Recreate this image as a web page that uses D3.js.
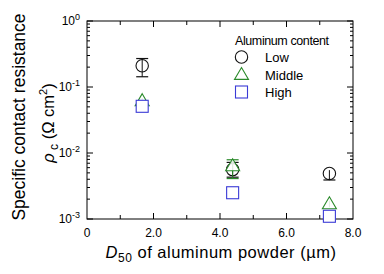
<!DOCTYPE html>
<html>
<head>
<meta charset="utf-8">
<script src="https://cdn.jsdelivr.net/npm/d3@7"></script>
<style>
  body { margin: 0; background: #fff; }
  svg { font-family: "Liberation Sans", Arial, sans-serif; }
</style>
</head>
<body>
<div id="chart"></div>
<script>
const xTicks = [2, 4, 6, 8];
const xTickLabels = ["2.0", "4.0", "6.0", "8.0"];
const yDecades = [0, -1, -2, -3];
const seriesNames = ["Low", "Middle", "High"];
const seriesColors = ["#111111", "#2a8a2a", "#3a3ad6"];
const seriesShapes = ["circle", "triangle", "square"];

const d50 = [1.66, 4.38, 7.29];
const lowVals = [0.21, 0.0056, 0.0049];
const lowLo = [0.143, 0.0043, 0.0039];
const lowHi = [0.27, 0.0072, 0.0055];
const midVals = [0.062, 0.0064, 0.0017];
const midLo = [0.055, 0.0041, 0.0015];
const midHi = [0.068, 0.0079, 0.0019];
const highVals = [0.051, 0.0025, 0.0011];
const highLo = [0.048, 0.0024, 0.00105];
const highHi = [0.054, 0.0026, 0.00115];

const W = 384, H = 274;
const margin = { top: 21, right: 31, bottom: 55, left: 87 };
const width = W - margin.left - margin.right;
const height = H - margin.top - margin.bottom;

const svgRoot = d3.select("#chart").append("svg").attr("width", W).attr("height", H);
const svg = svgRoot.append("g").attr("transform", `translate(${margin.left},${margin.top})`);

const x = d3.scaleLinear().domain([0, 8]).range([0, width]);
const y = d3.scaleLog().domain([1e-3, 1]).range([height, 0]);

// frame
svg.append("rect").attr("width", width).attr("height", height)
  .attr("fill", "none").attr("stroke", "#000").attr("stroke-width", 1);

// x ticks (inward, bottom and top)
const xMinor = d3.range(1, 8, 1);
xMinor.forEach((v) => {
  const len = v % 2 === 0 ? 6 : 4;
  svg.append("line").attr("x1", x(v)).attr("x2", x(v)).attr("y1", height).attr("y2", height - len).attr("stroke", "#000");
  svg.append("line").attr("x1", x(v)).attr("x2", x(v)).attr("y1", 0).attr("y2", len).attr("stroke", "#000");
});

svg.append("text").attr("x", x(0)).attr("y", height + 18).attr("text-anchor", "middle")
  .style("font-size", "12px").text("0");
xTicks.forEach((v, i) => {
  svg.append("text").attr("x", x(v)).attr("y", height + 18).attr("text-anchor", "middle")
    .style("font-size", "12px").text(xTickLabels[i]);
});

// y ticks (log, inward on both sides)
const yMinorVals = [];
for (let e = -3; e < 0; e++) {
  for (let m = 2; m <= 9; m++) yMinorVals.push(m * Math.pow(10, e));
}
yMinorVals.forEach((v) => {
  svg.append("line").attr("x1", 0).attr("x2", 3).attr("y1", y(v)).attr("y2", y(v)).attr("stroke", "#000");
  svg.append("line").attr("x1", width).attr("x2", width - 3).attr("y1", y(v)).attr("y2", y(v)).attr("stroke", "#000");
});
yDecades.forEach((e) => {
  const v = Math.pow(10, e);
  svg.append("line").attr("x1", 0).attr("x2", 6).attr("y1", y(v)).attr("y2", y(v)).attr("stroke", "#000");
  svg.append("line").attr("x1", width).attr("x2", width - 6).attr("y1", y(v)).attr("y2", y(v)).attr("stroke", "#000");
  const t = svg.append("text").attr("x", -7).attr("y", y(v) + 4).attr("text-anchor", "end")
    .style("font-size", "12px");
  t.append("tspan").text("10");
  t.append("tspan").attr("dy", -5).style("font-size", "9px").text(String(e));
});

// axis titles
svgRoot.append("text")
  .attr("transform", "translate(25,117) rotate(-90)")
  .attr("text-anchor", "middle").style("font-size", "17.5px")
  .text("Specific contact resistance");

const yl2 = svgRoot.append("text")
  .attr("transform", "translate(54,123) rotate(-90)")
  .attr("text-anchor", "middle").style("font-size", "16.5px");
yl2.append("tspan").style("font-style", "italic").text("ρ");
yl2.append("tspan").attr("dy", 4).style("font-size", "12px").text(" c");
yl2.append("tspan").attr("dy", -4).text(" (Ω cm");
yl2.append("tspan").attr("dy", -7).style("font-size", "11px").text("2");
yl2.append("tspan").attr("dy", 7).text(")");

const xl = svgRoot.append("text")
  .attr("x", 221).attr("y", 258)
  .attr("text-anchor", "middle").style("font-size", "16.5px")
  .style("letter-spacing", "0.5px");
xl.append("tspan").style("font-style", "italic").text("D");
xl.append("tspan").attr("dy", 4).style("font-size", "12px").text("50");
xl.append("tspan").attr("dy", -4).text(" of aluminum powder (µm)");

// markers
function drawMarker(g, shape, cx, cy, color) {
  if (shape === "circle") {
    g.append("circle").attr("cx", cx).attr("cy", cy).attr("r", 6.2)
      .attr("fill", "none").attr("stroke", color).attr("stroke-width", 1.1);
  } else if (shape === "triangle") {
    const s = 7;
    g.append("path")
      .attr("d", `M${cx},${cy - s}L${cx + s},${cy + s * 0.7}L${cx - s},${cy + s * 0.7}Z`)
      .attr("fill", "#fff").attr("fill-opacity", 0.85).attr("stroke", color).attr("stroke-width", 1.1);
  } else {
    g.append("rect").attr("x", cx - 6).attr("y", cy - 6).attr("width", 12).attr("height", 12)
      .attr("fill", "#fff").attr("stroke", color).attr("stroke-width", 1.1);
  }
}

const allVals = [lowVals, midVals, highVals];
const allLo = [lowLo, midLo, highLo];
const allHi = [lowHi, midHi, highHi];

seriesNames.forEach((name, s) => {
  const g = svg.append("g").attr("class", "series-" + name);
  d50.forEach((dx, i) => {
    const cx = x(dx);
    const color = seriesColors[s];
    const cy = y(allVals[s][i]);
    const lo = y(allLo[s][i]), hi = y(allHi[s][i]);
    g.append("line").attr("x1", cx).attr("x2", cx).attr("y1", lo).attr("y2", hi).attr("stroke", color);
    [lo, hi].forEach((yy) => {
      if (Math.abs(yy - cy) < 6) return; // cap hidden inside marker
      g.append("line").attr("x1", cx - 6).attr("x2", cx + 6).attr("y1", yy).attr("y2", yy)
        .attr("stroke", color).attr("stroke-width", 1.2);
    });
    drawMarker(g, seriesShapes[s], cx, cy, color);
  });
});

// legend
const lg = svgRoot.append("g").attr("transform", "translate(235,0)");
lg.append("text").attr("x", 0).attr("y", 45).style("font-size", "12.5px")
  .style("letter-spacing", "-0.4px").text("Aluminum content");
seriesNames.forEach((name, s) => {
  const yy = 57 + s * 17.5;
  drawMarker(lg, seriesShapes[s], 6.5, yy, seriesColors[s]);
  lg.append("text").attr("x", 30).attr("y", yy + 5).style("font-size", "13px").text(name);
});
</script>
</body>
</html>
